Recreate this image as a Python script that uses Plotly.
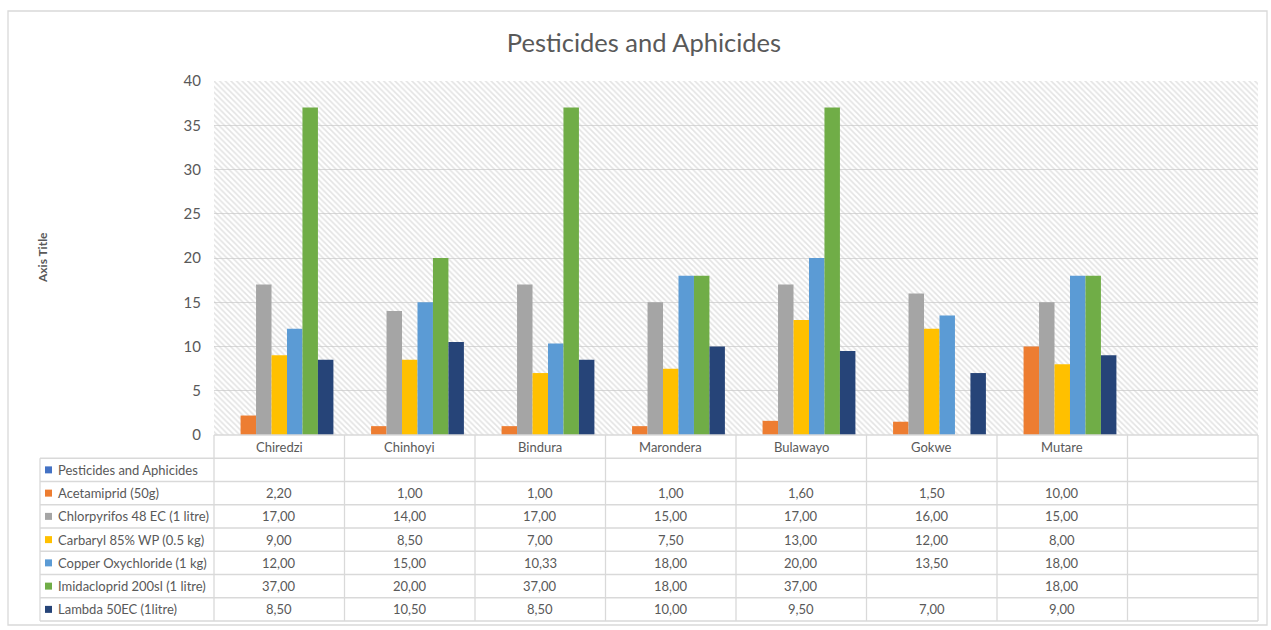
import plotly.graph_objects as go

# --- data ---
cities = ["Chiredzi", "Chinhoyi", "Bindura", "Marondera", "Bulawayo", "Gokwe", "Mutare", " "]
series_names = [
    "Pesticides and Aphicides",
    "Acetamiprid (50g)",
    "Chlorpyrifos 48 EC (1 litre)",
    "Carbaryl 85% WP (0.5 kg)",
    "Copper Oxychloride (1 kg)",
    "Imidacloprid 200sl (1 litre)",
    "Lambda 50EC (1litre)",
]
pesticides_aphicides = [None, None, None, None, None, None, None, None]
acetamiprid = [2.2, 1.0, 1.0, 1.0, 1.6, 1.5, 10.0, None]
chlorpyrifos = [17.0, 14.0, 17.0, 15.0, 17.0, 16.0, 15.0, None]
carbaryl = [9.0, 8.5, 7.0, 7.5, 13.0, 12.0, 8.0, None]
copper_oxychloride = [12.0, 15.0, 10.33, 18.0, 20.0, 13.5, 18.0, None]
imidacloprid = [37.0, 20.0, 37.0, 18.0, 37.0, None, 18.0, None]
lambda_50ec = [8.5, 10.5, 8.5, 10.0, 9.5, 7.0, 9.0, None]
y_ticks = [0, 5, 10, 15, 20, 25, 30, 35, 40]

all_values = [pesticides_aphicides, acetamiprid, chlorpyrifos, carbaryl,
              copper_oxychloride, imidacloprid, lambda_50ec]
colors = ["#4472C4", "#ED7D31", "#A5A5A5", "#FFC000", "#5B9BD5", "#70AD47", "#264478"]

W, H = 1271, 630
L, R, T, B = 214, 1258, 81, 435   # plot area in pixels
TXT = "#595959"
LINE = "#d9d9d9"
FONT = "Lato"


def px(x):
    return (x - L) / (R - L)


def py(y):
    return (B - y) / (B - T)


fig = go.Figure()

# hatched plot background (main axes, drawn under the data)
fig.add_trace(go.Bar(
    x=[0.5], y=[40], width=[1], xaxis="x", yaxis="y",
    marker=dict(color="rgba(0,0,0,0)", line_width=0,
                pattern=dict(shape="\\", fgcolor="#c8c8c8", bgcolor="rgba(0,0,0,0)",
                             size=4, solidity=0.4)),
    hoverinfo="skip", showlegend=False,
))

for name, vals, col in zip(series_names, all_values, colors):
    fig.add_trace(go.Bar(
        x=cities, y=vals, name=name, xaxis="x2", yaxis="y",
        marker=dict(color=col, line_width=0), showlegend=False,
    ))

# --- data table under the chart ---
shapes = []
annotations = []
col_w = (R - L) / len(cities)
row_h = 23.25
n_rows = len(series_names) + 1
bottom = B + row_h * n_rows
left_lab = 40


def note(x, y, text, size=13, **kw):
    d = dict(x=px(x), y=py(y), xref="paper", yref="paper", text=text,
             showarrow=False, xanchor="center", yanchor="middle",
             font=dict(size=size, color=TXT, family=FONT))
    d.update(kw)
    annotations.append(d)


# horizontal lines
for k in range(n_rows + 1):
    yy = B + row_h * k
    x0 = L if k == 0 else left_lab
    shapes.append(dict(type="line", xref="paper", yref="paper",
                       x0=px(x0), x1=px(R), y0=py(yy), y1=py(yy),
                       line=dict(color=LINE, width=1.3)))
# vertical lines
shapes.append(dict(type="line", xref="paper", yref="paper",
                   x0=px(left_lab), x1=px(left_lab), y0=py(B + row_h), y1=py(bottom),
                   line=dict(color=LINE, width=1.3)))
for j in range(len(cities) + 1):
    xx = L + col_w * j
    shapes.append(dict(type="line", xref="paper", yref="paper",
                       x0=px(xx), x1=px(xx), y0=py(B), y1=py(bottom),
                       line=dict(color=LINE, width=1.3)))

# category header
for j, c in enumerate(cities):
    note(L + col_w * (j + 0.5), B + row_h / 2, c)

# rows
for i, (name, vals, col) in enumerate(zip(series_names, all_values, colors)):
    yc = B + row_h * (i + 1.5)
    shapes.append(dict(type="rect", xref="paper", yref="paper",
                       x0=px(45), x1=px(52), y0=py(yc - 3.5), y1=py(yc + 3.5),
                       fillcolor=col, line_width=0))
    note(56, yc, name, xanchor="left")
    for j, v in enumerate(vals):
        if v is None:
            continue
        note(L + col_w * (j + 0.5), yc, f"{v:.2f}".replace(".", ","))

# outer chart border
shapes.append(dict(type="rect", xref="paper", yref="paper",
                   x0=px(8), x1=px(1267), y0=py(11), y1=py(625),
                   line=dict(color=LINE, width=1.3), fillcolor="rgba(0,0,0,0)"))

# axis title
note(42, 258, "<b>Axis Title</b>", size=12, textangle=-90)

fig.update_layout(
    width=W, height=H,
    margin=dict(l=L, r=W - R, t=T, b=H - B, autoexpand=False),
    paper_bgcolor="white", plot_bgcolor="white",
    title=dict(text="Pesticides and Aphicides", x=px(644), xanchor="center",
               xref="paper", y=1 - 43 / H, yanchor="middle",
               font=dict(size=25.5, color=TXT, family=FONT)),
    barmode="group", bargap=0.17, bargroupgap=0,
    xaxis=dict(range=[0, 1], visible=False, fixedrange=True),
    xaxis2=dict(overlaying="x", anchor="y", showticklabels=False, showgrid=False,
                ticks="", showline=False, zeroline=False, type="category",
                categoryorder="array", categoryarray=cities, range=[-0.5, 7.5]),
    yaxis=dict(range=[0, 40], tickvals=y_ticks, showgrid=True, gridcolor=LINE,
               gridwidth=1.3, zeroline=False, showline=False, ticks="",
               ticklabelstandoff=12,
               tickfont=dict(size=15, color=TXT, family=FONT)),
    shapes=shapes, annotations=annotations,
)

fig.write_html("out.html", config={"displayModeBar": False},
               post_script="document.body.style.margin='0px';")
